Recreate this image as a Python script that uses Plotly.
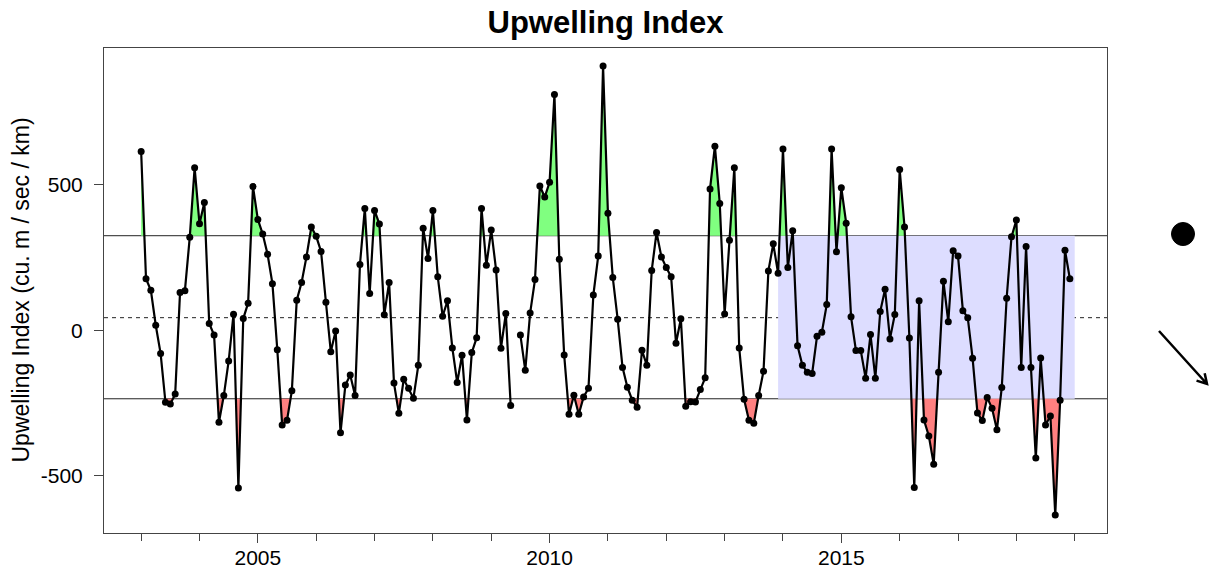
import math
import numpy as np
import plotly.graph_objects as go

# Monthly upwelling index, Jan 2003 - Dec 2018 (one row per year)
start_year = 2003
upwelling = [
    615, 177, 137, 17, -80, -248, -254, -220, 130, 136, 320, 559,
    366, 439, 23, -17, -317, -225, -106, 55, -543, 40, 93, 494,
    381, 331, 261, 160, -67, -326, -310, -208, 103, 164, 252, 355,
    323, 271, 96, -74, -3, -353, -189, -154, -225, 226, 419, 126,
    412, 365, 53, 164, -182, -286, -169, -200, -234, -121, 351, 247,
    412, 184, 48, 101, -61, -180, -86, -309, -77, -26, 419, 223,
    345, 207, -62, 57, -259, None, -17, -138, 59, 174, 496, 458,
    509, 811, 244, -85, -289, -224, -289, -230, -200, 121, 255, 909,
    402, 181, 38, -128, -196, -241, -265, -69, -121, 205, 336, 252,
    216, 184, -45, 39, -262, -246, -247, -204, -164, 486, 633, 436,
    56, 309, 559, -61, -238, -310, -320, -225, -141, 204, 297, 196,
    623, 216, 342, -54, -121, -145, -149, -21, -7, 88, 623, 270,
    490, 368, 46, -70, -70, -165, -15, -165, 64, 141, -30, 54,
    553, 355, -27, -541, 101, -309, -364, -461, -145, 168, 29, 273,
    255, 67, 43, -97, -285, -311, -232, -269, -343, -197, 110, 321,
    379, -128, 288, -128, -440, -96, -326, -295, -636, -241, 275, 177,
]
upper_thr = 325
mean_line = 43
lower_thr = -236
x_ticks = [2005, 2010, 2015]
y_ticks = [-500, 0, 500]
y_tick_text = ["-500", "0", "500"]

y = np.array([np.nan if v is None else v for v in upwelling], dtype=float)
t = start_year + np.arange(len(y)) / 12.0


def exceed_polys(xs, ys, thr, above):
    # polygons between the series and a threshold where it is exceeded
    polys, cur = [], None
    inside = (lambda v: v > thr) if above else (lambda v: v < thr)
    for k in range(len(ys)):
        if np.isnan(ys[k]):
            cur = None
            continue
        if k == 0 or np.isnan(ys[k - 1]):
            cur = [(xs[k], thr), (xs[k], ys[k])] if inside(ys[k]) else None
            continue
        a, b = inside(ys[k - 1]), inside(ys[k])
        if a or b:
            xc = xs[k - 1] + (thr - ys[k - 1]) / (ys[k] - ys[k - 1]) * (xs[k] - xs[k - 1])
        if a and b:
            cur.append((xs[k], ys[k]))
        elif a:
            cur.append((xc, thr))
            polys.append(cur)
            cur = None
        elif b:
            cur = [(xc, thr), (xs[k], ys[k])]
    if cur:
        cur.append((xs[-1], thr))
        polys.append(cur)
    px, py = [], []
    for p in polys:
        px += [q[0] for q in p] + [p[0][0], None]
        py += [q[1] for q in p] + [p[0][1], None]
    return px, py


fig = go.Figure()

gx, gy = exceed_polys(t, y, upper_thr, True)
rx, ry = exceed_polys(t, y, lower_thr, False)
fig.add_trace(go.Scatter(x=gx, y=gy, fill="toself", fillcolor="rgb(128,255,128)",
                         mode="lines", line=dict(width=0), hoverinfo="skip"))
fig.add_trace(go.Scatter(x=rx, y=ry, fill="toself", fillcolor="rgb(255,128,128)",
                         mode="lines", line=dict(width=0), hoverinfo="skip"))
fig.add_trace(go.Scatter(x=t, y=y, mode="lines+markers",
                         line=dict(color="black", width=2.2),
                         marker=dict(color="black", size=7)))

# last five years box
fig.add_shape(type="rect", x0=t[-1] - 5, x1=t[-1] + 1 / 12, y0=lower_thr, y1=upper_thr,
              fillcolor="rgb(221,221,255)", line=dict(width=0), layer="below")
for v, d in [(upper_thr, "solid"), (lower_thr, "solid"), (mean_line, "4px,4px")]:
    fig.add_shape(type="line", xref="paper", x0=0, x1=1, y0=v, y1=v,
                  line=dict(color="#222", width=1, dash=d), layer="below")

xpad = (t[-1] - t[0]) * 0.04
ymin, ymax = np.nanmin(y), np.nanmax(y)
ypad = (ymax - ymin) * 0.04

W, H = 1209, 571
L, R, T, B = 104, 1107, 48, 533


def pp(px, py):
    # pixel -> paper coords
    return (px - L) / (R - L), (B - py) / (B - T)


# status symbols right of the plot
cx0, cy0 = pp(1171.5, 222.5)
cx1, cy1 = pp(1194.5, 245.5)
fig.add_shape(type="circle", xref="paper", yref="paper", x0=cx0, y0=cy1, x1=cx1, y1=cy0,
              fillcolor="black", line=dict(color="black", width=1))

tail, head = (1159, 331), (1207, 384)
ang = math.atan2(head[1] - tail[1], head[0] - tail[0])
h1 = (head[0] - 11 * math.cos(ang - math.pi / 6), head[1] - 11 * math.sin(ang - math.pi / 6))
h2 = (head[0] - 11 * math.cos(ang + math.pi / 6), head[1] - 11 * math.sin(ang + math.pi / 6))
pts = [pp(*p) for p in (tail, head, h1, h2)]
path = "M {0[0]},{0[1]} L {1[0]},{1[1]} M {2[0]},{2[1]} L {1[0]},{1[1]} L {3[0]},{3[1]}".format(*pts)
fig.add_shape(type="path", xref="paper", yref="paper", path=path,
              line=dict(color="black", width=2.5))

fig.update_layout(
    width=W, height=H,
    margin=dict(l=L, r=W - R, t=T, b=H - B),
    plot_bgcolor="white", paper_bgcolor="white",
    showlegend=False,
    font=dict(family="Liberation Sans, Arial, sans-serif", size=21, color="black"),
    title=dict(text="<b>Upwelling Index</b>", x=0.5, xref="paper", y=1 - 22 / H,
               yanchor="middle", font=dict(size=31)),
)
fig.update_xaxes(range=[t[0] - xpad, t[-1] + xpad], tickmode="array", tickvals=x_ticks,
                 ticks="outside", ticklen=9, tickcolor="#444", showgrid=False, zeroline=False,
                 showline=True, linecolor="#444", linewidth=1, mirror=True, automargin=False,
                 minor=dict(tick0=start_year, dtick=1, ticks="outside", ticklen=7, tickcolor="#444"),
                 ticklabelstandoff=-3)
fig.update_yaxes(range=[ymin - ypad, ymax + ypad], tickmode="array", tickvals=y_ticks,
                 ticktext=y_tick_text, ticks="outside", ticklen=9, tickcolor="#444",
                 showgrid=False, zeroline=False, showline=True, linecolor="#444",
                 linewidth=1, mirror=True, automargin=False, ticklabelstandoff=7)
fig.add_annotation(text="Upwelling Index (cu. m / sec / km)", xref="paper", yref="paper",
                   x=(20 - L) / (R - L), y=0.5, textangle=-90, showarrow=False,
                   font=dict(size=23), xanchor="center", yanchor="middle")

# drop the default page margin so the figure sits at the window origin
fig.write_html("out.html", config={"displayModeBar": False},
               post_script="document.body.style.margin='0';"
                           "document.body.style.overflow='hidden';")
